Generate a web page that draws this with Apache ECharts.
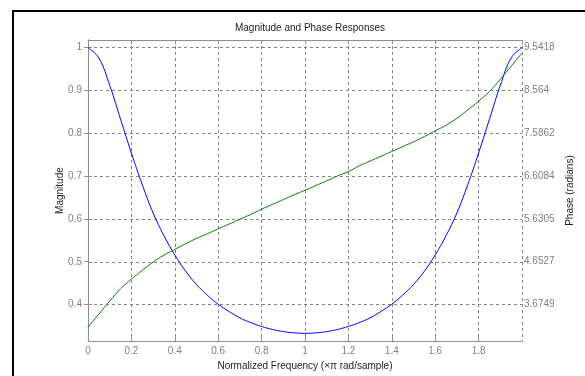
<!DOCTYPE html>
<html>
<head>
<meta charset="utf-8">
<script src="https://cdn.jsdelivr.net/npm/echarts@6/dist/echarts.min.js"></script>
<style>
  html, body { margin: 0; padding: 0; background: #fff; overflow: hidden; }
  #frame { position: absolute; left: 12px; top: 10px; width: 620px; height: 420px; border: 2px solid #000; box-sizing: border-box; }
  #chart { position: absolute; left: 0; top: 0; width: 585px; height: 376px; }
</style>
</head>
<body>
<div id="frame"></div>
<div id="chart"></div>
<script>
// normalized frequency (x pi rad/sample)
const freq = [0, 0.05, 0.1, 0.15, 0.2, 0.25, 0.3, 0.35, 0.4, 0.45, 0.5, 0.55, 0.6, 0.65, 0.7, 0.75, 0.8, 0.85, 0.9, 0.95,
  1.0, 1.05, 1.1, 1.15, 1.2, 1.25, 1.3, 1.35, 1.4, 1.45, 1.5, 1.55, 1.6, 1.65, 1.7, 1.75, 1.8, 1.85, 1.9, 1.95, 2.0];

const magnitude = [1.0, 0.976, 0.912, 0.833, 0.754, 0.68, 0.614, 0.561, 0.516, 0.478, 0.447, 0.422, 0.401, 0.384, 0.369, 0.358, 0.349, 0.342, 0.337, 0.334,
  0.333, 0.334, 0.337, 0.342, 0.349, 0.358, 0.369, 0.384, 0.401, 0.422, 0.447, 0.478, 0.516, 0.561, 0.614, 0.68, 0.754, 0.833, 0.912, 0.976, 1.0];

const phase = [3.15, 3.45, 3.75, 4.03, 4.25, 4.45, 4.64, 4.80, 4.93, 5.06, 5.18, 5.29, 5.40, 5.51, 5.62, 5.73, 5.85, 5.96, 6.07, 6.18,
  6.283, 6.39, 6.50, 6.61, 6.71, 6.84, 6.95, 7.06, 7.17, 7.28, 7.39, 7.51, 7.64, 7.77, 7.93, 8.12, 8.32, 8.54, 8.82, 9.12, 9.42];

const magTicks = [0.4, 0.5, 0.6, 0.7, 0.8, 0.9, 1];
const phaseTicks = [3.6749, 4.6527, 5.6305, 6.6084, 7.5862, 8.564, 9.5418];

const chart = echarts.init(document.getElementById('chart'));

const axisCol = '#8a8aa8';
const gridCol = '#80808f';
const labelCol = '#7f7f7f';
const font = 'Liberation Sans, Arial, sans-serif';

chart.setOption({
  animation: false,
  backgroundColor: 'transparent',
  title: {
    text: 'Magnitude and Phase Responses',
    left: 305, top: 18, textAlign: 'center',
    textStyle: { fontSize: 10, fontWeight: 'normal', color: '#222', fontFamily: font }
  },
  grid: { left: 88, right: 63, top: 40, bottom: 33 },
  xAxis: [
    {
      type: 'value', min: 0, max: 2, interval: 0.2,
      name: 'Normalized Frequency (\u00d7\u03c0 rad/sample)',
      nameLocation: 'middle', nameGap: 17,
      nameTextStyle: { fontSize: 10, color: '#222', fontFamily: font },
      axisLine: { show: true, lineStyle: { color: axisCol, width: 1 } },
      axisTick: { show: true, inside: true, length: 4, lineStyle: { color: axisCol } },
      axisLabel: { color: labelCol, fontSize: 10, fontFamily: font, margin: 5, showMaxLabel: false },
      splitLine: { show: true, lineStyle: { color: gridCol, type: [3, 3], width: 1 } }
    },
    {
      // top edge of the box
      type: 'value', min: 0, max: 2, interval: 0.2, position: 'top',
      axisLine: { show: true, lineStyle: { color: axisCol, width: 1 } },
      axisTick: { show: true, inside: true, length: 4, lineStyle: { color: axisCol } },
      axisLabel: { show: false },
      splitLine: { show: false }
    }
  ],
  yAxis: [
    {
      type: 'value', min: 0.3148, max: 1.0179,
      name: 'Magnitude', nameLocation: 'middle', nameGap: 23, nameRotate: 90, nameMoveOverlap: false,
      nameTextStyle: { fontSize: 10, color: '#222', fontFamily: font },
      axisLine: { show: true, lineStyle: { color: axisCol, width: 1 } },
      axisTick: { show: true, inside: true, length: 4, customValues: magTicks, lineStyle: { color: axisCol } },
      axisLabel: { color: labelCol, fontSize: 10, fontFamily: font, margin: 6, customValues: magTicks },
      splitLine: { show: true, lineStyle: { color: gridCol, type: [3, 3], width: 1 } }
    },
    {
      type: 'value', min: 2.834, max: 9.718, position: 'right',
      name: 'Phase (radians)', nameLocation: 'middle', nameGap: 42, nameRotate: 90,
      nameTextStyle: { fontSize: 10, color: '#222', fontFamily: font },
      axisLine: { show: true, lineStyle: { color: axisCol, width: 1 } },
      axisTick: { show: true, inside: true, length: 4, customValues: phaseTicks, lineStyle: { color: axisCol } },
      axisLabel: { color: labelCol, fontSize: 10, fontFamily: font, margin: 2, customValues: phaseTicks },
      splitLine: { show: false }
    }
  ],
  series: [
    {
      type: 'line', yAxisIndex: 0, smooth: 0.4, symbol: 'none',
      lineStyle: { color: '#0000ff', width: 1 },
      data: freq.map((f, i) => [f, magnitude[i]])
    },
    {
      type: 'line', yAxisIndex: 1, smooth: 0.4, symbol: 'none',
      lineStyle: { color: '#008000', width: 1 },
      data: freq.map((f, i) => [f, phase[i]])
    }
  ]
});
</script>
</body>
</html>
